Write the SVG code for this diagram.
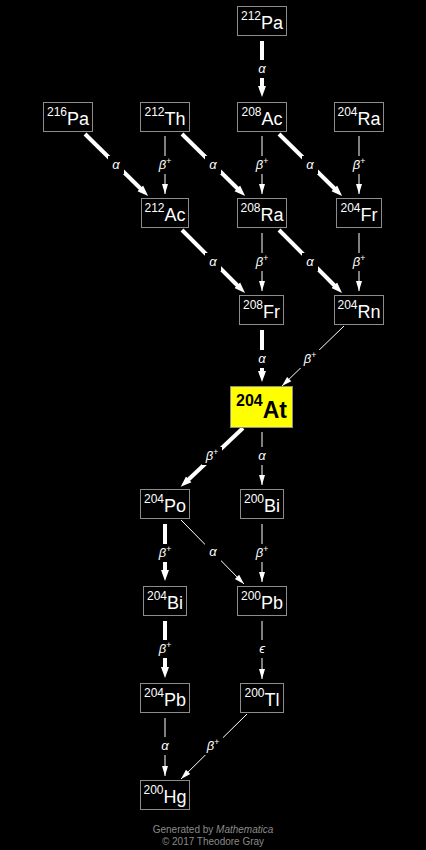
<svg xmlns="http://www.w3.org/2000/svg" width="426" height="850" viewBox="0 0 426 850">
<style>
.bg{fill:#000}
.bx{fill:#000;stroke:#8c8c8c;stroke-width:1}
.nt{font-family:"Liberation Sans",Arial,sans-serif;fill:#fff;font-size:18px;text-anchor:middle}
.sup{font-size:12px}
.thin{stroke:#fff;stroke-width:1;fill:none;marker-end:url(#ah)}
.thick{stroke:#fff;stroke-width:4;fill:none;marker-end:url(#ahT)}
.lb{font-family:"Liberation Sans","DejaVu Sans",sans-serif;font-style:italic;fill:#fff;font-size:13px;text-anchor:middle}
.ls{font-size:9px}
.lbg{fill:#000}
.ft{font-family:"Liberation Sans",Arial,sans-serif;fill:#8a8a8a;font-size:10px;text-anchor:middle}
</style>
<defs>
<marker id="ah" markerUnits="userSpaceOnUse" markerWidth="12" markerHeight="8" viewBox="0 -4 12 8" refX="10" refY="0" orient="auto"><path d="M0,-3 L10,0 L0,3z" fill="#fff"/></marker>
<marker id="ahT" markerUnits="userSpaceOnUse" markerWidth="12" markerHeight="10" viewBox="-1 -5 12 10" refX="0" refY="0" orient="auto"><path d="M-1,-4 L10,0 L-1,4z" fill="#fff"/></marker>
</defs>
<rect class="bg" x="0" y="0" width="426" height="850"/>
<g id="connectors">
<path class="thick" d="M262,41 V87"/>
<path class="thick" d="M262,330 V372"/>
<path class="thick" d="M165,524 V571"/>
<path class="thick" d="M165,621 V668"/>
<path class="thin" d="M165,136 V194"/>
<path class="thin" d="M262,136 V194"/>
<path class="thin" d="M359,136 V194"/>
<path class="thin" d="M262,233 V291"/>
<path class="thin" d="M359,233 V291"/>
<path class="thin" d="M262,432 V485"/>
<path class="thin" d="M262,524 V582"/>
<path class="thin" d="M262,621 V679"/>
<path class="thin" d="M165,718 V776"/>
<path class="thick" d="M85,134 L141,189"/>
<path class="thick" d="M182,134 L238,189"/>
<path class="thick" d="M279,134 L335,189"/>
<path class="thick" d="M182,230 L238,286"/>
<path class="thick" d="M279,230 L335,286"/>
<path class="thick" d="M243,428 L188,480"/>
<path class="thin" d="M344,326 L282,386"/>
<path class="thin" d="M181,520 L244,584"/>
<path class="thin" d="M247,714 L181,779"/>
<g id="labels">
<rect class="lbg" x="254" y="60" width="16" height="18"/><text class="lb" x="262" y="73">α</text>
<rect class="lbg" x="108" y="156" width="16" height="18"/><text class="lb" x="116" y="169">α</text>
<rect class="lbg" x="155" y="156" width="20" height="18"/><text class="lb" x="165" y="169">β<tspan class="ls" dy="-5">+</tspan></text>
<rect class="lbg" x="205" y="156" width="16" height="18"/><text class="lb" x="213" y="169">α</text>
<rect class="lbg" x="252" y="156" width="20" height="18"/><text class="lb" x="262" y="169">β<tspan class="ls" dy="-5">+</tspan></text>
<rect class="lbg" x="302" y="156" width="16" height="18"/><text class="lb" x="310" y="169">α</text>
<rect class="lbg" x="349" y="156" width="20" height="18"/><text class="lb" x="359" y="169">β<tspan class="ls" dy="-5">+</tspan></text>
<rect class="lbg" x="205" y="253" width="16" height="18"/><text class="lb" x="213" y="266">α</text>
<rect class="lbg" x="252" y="253" width="20" height="18"/><text class="lb" x="262" y="266">β<tspan class="ls" dy="-5">+</tspan></text>
<rect class="lbg" x="302" y="253" width="16" height="18"/><text class="lb" x="310" y="266">α</text>
<rect class="lbg" x="349" y="253" width="20" height="18"/><text class="lb" x="359" y="266">β<tspan class="ls" dy="-5">+</tspan></text>
<rect class="lbg" x="254" y="350" width="16" height="18"/><text class="lb" x="262" y="363">α</text>
<rect class="lbg" x="300" y="350" width="20" height="18"/><text class="lb" x="310" y="363">β<tspan class="ls" dy="-5">+</tspan></text>
<rect class="lbg" x="202" y="447" width="20" height="18"/><text class="lb" x="212" y="460">β<tspan class="ls" dy="-5">+</tspan></text>
<rect class="lbg" x="254" y="447" width="16" height="18"/><text class="lb" x="262" y="460">α</text>
<rect class="lbg" x="155" y="544" width="20" height="18"/><text class="lb" x="165" y="557">β<tspan class="ls" dy="-5">+</tspan></text>
<rect class="lbg" x="205" y="543" width="16" height="18"/><text class="lb" x="213" y="556">α</text>
<rect class="lbg" x="252" y="544" width="20" height="18"/><text class="lb" x="262" y="557">β<tspan class="ls" dy="-5">+</tspan></text>
<rect class="lbg" x="155" y="640" width="20" height="18"/><text class="lb" x="165" y="653">β<tspan class="ls" dy="-5">+</tspan></text>
<rect class="lbg" x="254" y="640" width="16" height="18"/><text class="lb" x="262" y="653">ϵ</text>
<rect class="lbg" x="157" y="737" width="16" height="18"/><text class="lb" x="165" y="750">α</text>
<rect class="lbg" x="203" y="737" width="20" height="18"/><text class="lb" x="213" y="750">β<tspan class="ls" dy="-5">+</tspan></text>
</g>
</g>
<g id="Pa212"><rect class="bx" x="237.5" y="6.5" width="49" height="29"/><text class="nt" x="262" y="28.5"><tspan class="sup" dy="-9">212</tspan><tspan dy="9">Pa</tspan></text></g>
<g id="Pa216"><rect class="bx" x="43.5" y="102.5" width="49" height="29"/><text class="nt" x="68" y="124.5"><tspan class="sup" dy="-9">216</tspan><tspan dy="9">Pa</tspan></text></g>
<g id="Th212"><rect class="bx" x="140.5" y="102.5" width="49" height="29"/><text class="nt" x="165" y="124.5"><tspan class="sup" dy="-9">212</tspan><tspan dy="9">Th</tspan></text></g>
<g id="Ac208"><rect class="bx" x="237.5" y="102.5" width="49" height="29"/><text class="nt" x="262" y="124.5"><tspan class="sup" dy="-9">208</tspan><tspan dy="9">Ac</tspan></text></g>
<g id="Ra204"><rect class="bx" x="334.5" y="102.5" width="49" height="29"/><text class="nt" x="359" y="124.5"><tspan class="sup" dy="-9">204</tspan><tspan dy="9">Ra</tspan></text></g>
<g id="Ac212"><rect class="bx" x="141.5" y="198.5" width="47" height="29"/><text class="nt" x="165" y="220.5"><tspan class="sup" dy="-9">212</tspan><tspan dy="9">Ac</tspan></text></g>
<g id="Ra208"><rect class="bx" x="237.5" y="198.5" width="49" height="29"/><text class="nt" x="262" y="220.5"><tspan class="sup" dy="-9">208</tspan><tspan dy="9">Ra</tspan></text></g>
<g id="Fr204"><rect class="bx" x="336.5" y="198.5" width="45" height="29"/><text class="nt" x="359" y="220.5"><tspan class="sup" dy="-9">204</tspan><tspan dy="9">Fr</tspan></text></g>
<g id="Fr208"><rect class="bx" x="239.5" y="295.5" width="44" height="29"/><text class="nt" x="261.5" y="317.5"><tspan class="sup" dy="-9">208</tspan><tspan dy="9">Fr</tspan></text></g>
<g id="Rn204"><rect class="bx" x="334.5" y="295.5" width="49" height="29"/><text class="nt" x="359" y="317.5"><tspan class="sup" dy="-9">204</tspan><tspan dy="9">Rn</tspan></text></g>
<g id="At204"><rect x="230.5" y="386.5" width="62" height="41" fill="#ffff00" stroke="#8c8c8c"/><text class="nt" x="261.5" y="418" style="fill:#000;font-weight:bold;font-size:23px"><tspan dy="-12" style="font-size:16px">204</tspan><tspan dy="12">At</tspan></text></g>
<g id="Po204"><rect class="bx" x="140.5" y="489.5" width="49" height="29"/><text class="nt" x="165" y="511.5"><tspan class="sup" dy="-9">204</tspan><tspan dy="9">Po</tspan></text></g>
<g id="Bi200"><rect class="bx" x="240.5" y="489.5" width="43" height="29"/><text class="nt" x="262" y="511.5"><tspan class="sup" dy="-9">200</tspan><tspan dy="9">Bi</tspan></text></g>
<g id="Bi204"><rect class="bx" x="143.5" y="586.5" width="43" height="29"/><text class="nt" x="165" y="608.5"><tspan class="sup" dy="-9">204</tspan><tspan dy="9">Bi</tspan></text></g>
<g id="Pb200"><rect class="bx" x="237.5" y="586.5" width="49" height="29"/><text class="nt" x="262" y="608.5"><tspan class="sup" dy="-9">200</tspan><tspan dy="9">Pb</tspan></text></g>
<g id="Pb204"><rect class="bx" x="140.5" y="683.5" width="49" height="29"/><text class="nt" x="165" y="705.5"><tspan class="sup" dy="-9">204</tspan><tspan dy="9">Pb</tspan></text></g>
<g id="Tl200"><rect class="bx" x="240.5" y="683.5" width="43" height="29"/><text class="nt" x="262" y="705.5"><tspan class="sup" dy="-9">200</tspan><tspan dy="9">Tl</tspan></text></g>
<g id="Hg200"><rect class="bx" x="140.5" y="780.5" width="49" height="29"/><text class="nt" x="165" y="802.5"><tspan class="sup" dy="-9">200</tspan><tspan dy="9">Hg</tspan></text></g>
<g id="footer">
<text class="ft" x="213" y="833">Generated by <tspan font-style="italic">Mathematica</tspan></text>
<text class="ft" x="213" y="845">© 2017 Theodore Gray</text>
</g>
</svg>
